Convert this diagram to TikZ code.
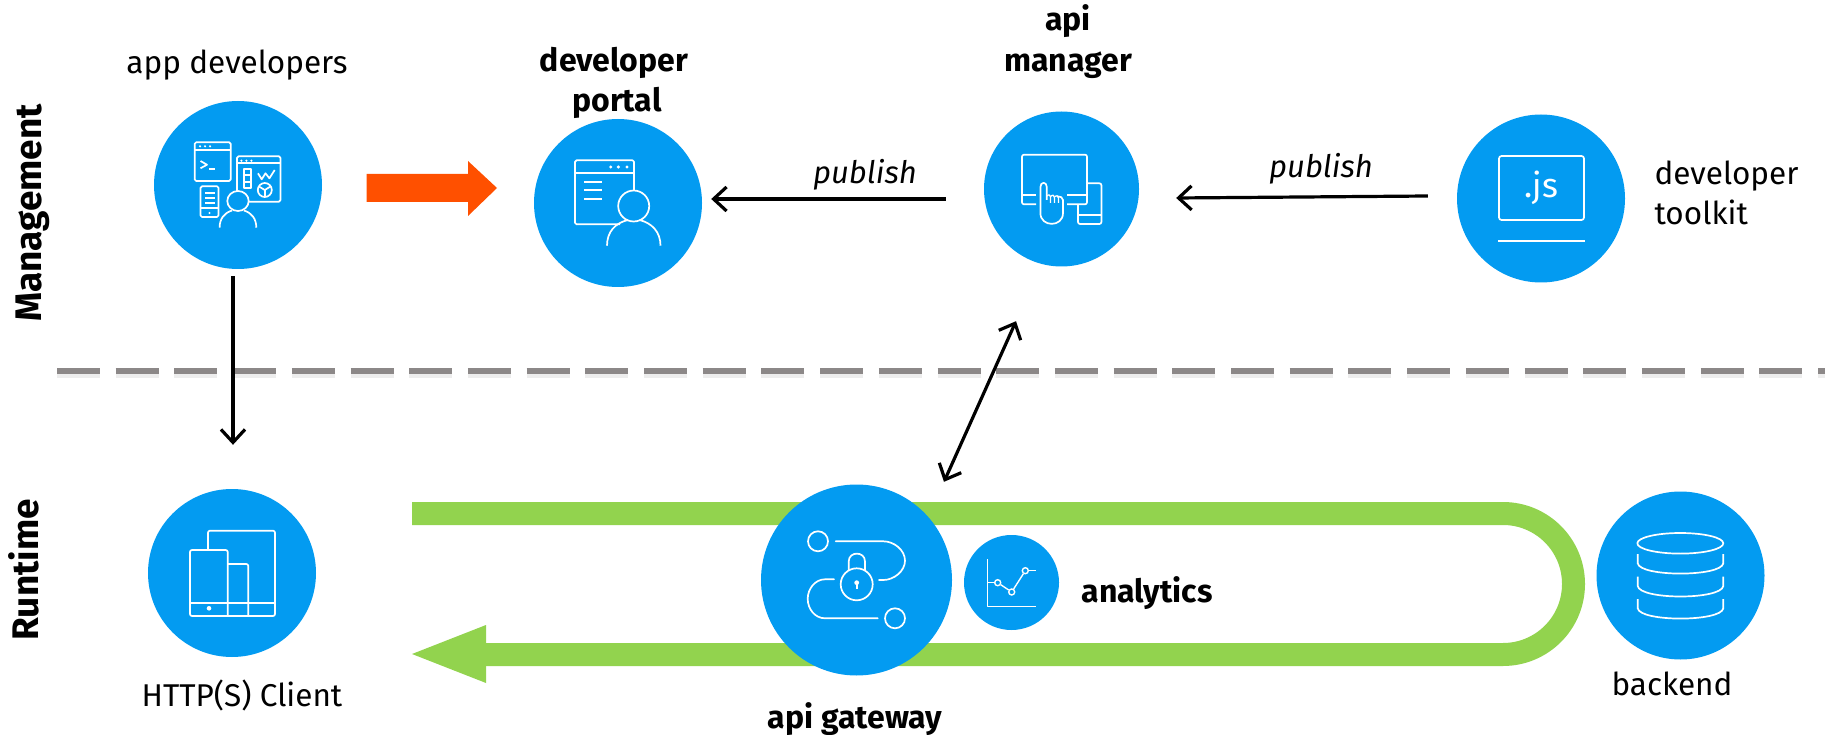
\documentclass[tikz,border=0pt]{standalone}
\usepackage{fontspec}
\setmainfont{Fira Sans}
\usetikzlibrary{arrows.meta}
\definecolor{ibmblue}{RGB}{3,155,241}
\definecolor{bandgreen}{RGB}{146,211,78}
\definecolor{blockorange}{RGB}{255,80,0}
\definecolor{sepgray}{RGB}{140,136,136}
\tikzset{
  bubble/.style={circle, fill=ibmblue, inner sep=0pt, minimum size=168pt},
  iconline/.style={draw=white, line width=1.7pt, line join=round},
  iconhead/.style={iconline, fill=ibmblue},
  plainlabel/.style={anchor=base, font=\fontsize{31.5}{31.5}\selectfont},
  boldlabel/.style={anchor=base, font=\fontsize{32}{32}\selectfont\bfseries},
  sidelabel/.style={anchor=base, rotate=90, font=\fontsize{37}{37}\selectfont\bfseries},
  italiclabel/.style={anchor=base, font=\fontsize{31}{31}\selectfont\itshape},
  flowarrow/.style={line width=3.2pt, -{Straight Barb[length=13pt, width=24pt, line width=3.2pt]}},
  flowboth/.style={line width=3.2pt, {Straight Barb[length=13pt, width=24pt, line width=3.2pt]}-{Straight Barb[length=13pt, width=24pt, line width=3.2pt]}},
  greenband/.style={draw=bandgreen, line width=23pt}
}
\begin{document}
\begin{tikzpicture}[x=1pt, y=-1pt]
\useasboundingbox (0,0) rectangle (1825,735);
\coordinate (sepleft) at (57,371);
\coordinate (sepright) at (1825,371);
\draw[line width=6pt, gray!14, dash pattern=on 43pt off 15.7pt] ([yshift=-4pt]sepleft) -- ([yshift=-4pt]sepright);
\draw[line width=6pt, sepgray, dash pattern=on 43pt off 15.7pt] (sepleft) -- (sepright);
\draw[greenband, rounded corners=70.5pt] (412,513.5) -- (1573.5,513.5) -- (1573.5,654.5) -- (480,654.5);
\fill[bandgreen] (486,625) -- (412,654) -- (486,683) -- cycle;
\fill[blockorange] (366.5,174) -- (468,174) -- (468,161) -- (497,188) -- (468,216) -- (468,202) -- (366.5,202) -- cycle;
\node[bubble] (appdev) at (238,185){};
\node[bubble] (portal) at (618,203){};
\node[bubble, minimum size=155pt] (manager) at (1061.5,189){};
\node[bubble] (toolkit) at (1541,198.5){};
\node[bubble] (client) at (232,573){};
\node[bubble, minimum size=191pt] (gateway) at (856.5,580){};
\node[bubble, minimum size=95pt] (analytics) at (1011.5,582.5){};
\node[bubble] (backend) at (1680.5,575.5){};
\node[plainlabel] (appdevtext) at (237,74){app developers};
\node[boldlabel] (portaltexta) at (614,72){developer};
\node[boldlabel] (portaltextb) at (617,112){portal};
\node[boldlabel] (managertexta) at (1068,31){api};
\node[boldlabel] (managertextb) at (1068,72){manager};
\node[plainlabel, anchor=base west] (toolkittexta) at (1651,185){developer};
\node[plainlabel, anchor=base west] (toolkittextb) at (1651,225){toolkit};
\node[plainlabel] (clienttext) at (242,706){HTTP(S) Client};
\node[boldlabel] (gatewaytext) at (855,728){api gateway};
\node[boldlabel, anchor=base west] (analyticstext) at (1078,602){analytics};
\node[plainlabel] (backendtext) at (1672,695){backend};
\node[italiclabel] (publishleft) at (865,184){publish};
\node[italiclabel] (publishright) at (1321,178){publish};
\node[sidelabel] (managementtext) at (41,213){Management};
\node[sidelabel] (runtimetext) at (38,570){Runtime};
\draw[flowarrow] ([shift={(-5,7)}]appdev.south) -- ([shift={(1,-44)}]client.north);
\draw[flowarrow] ([shift={(-38,10)}]manager.west) -- ([shift={(9,-4)}]portal.east);
\draw[flowarrow] ([shift={(-29,-2.5)}]toolkit.west) -- ([shift={(37,9)}]manager.east);
\draw[flowboth] ([shift={(-45.5,54.5)}]manager.south) -- ([shift={(87.5,-2.5)}]gateway.north);
\draw[iconline, rounded corners=1.5pt] (194.7,142.3) rectangle (230.7,181);
\draw[iconline] (194.7,150) -- (230.7,150);
\foreach \dotx in {200,205,210}
  \fill[white] (\dotx,146.3) circle (1.2);
\draw[iconline] (200.5,161) -- (207,164.7) -- (200.5,168.3);
\draw[iconline] (209,168.7) -- (215.4,168.7);
\draw[iconline, rounded corners=1.5pt] (237,156.3) rectangle (280.4,201.7);
\draw[iconline] (237,163.3) -- (280.4,163.3);
\foreach \dotx in {241.4,246.4,251.4}
  \fill[white] (\dotx,160.7) circle (1.2);
\draw[iconline] (243.7,169) rectangle (251,188.3);
\draw[iconline] (243.7,175.3) -- (251,175.3);
\draw[iconline] (243.7,182) -- (251,182);
\draw[iconline] (258,173.3) -- (261.7,179.3) -- (265.5,173.3) -- (269.4,178.3) -- (274.7,170);
\draw[iconline] (264.8,190) circle (7);
\draw[iconline] (264.8,190) -- (264.8,196);
\draw[iconline] (259,186.5) -- (264.8,190) -- (270.5,186.5);
\draw[iconline, rounded corners=1.5pt] (200.5,186.3) rectangle (218.5,217);
\foreach \liney in {193.3,198,202.7}
  \draw[iconline] (205,\liney) -- (214.6,\liney);
\draw[iconline] (200.5,208.3) -- (218.5,208.3);
\fill[white] (209.5,213) circle (1.2);
\draw[iconhead] (238,201) ellipse [x radius=10.7, y radius=10];
\draw[iconline] (219.6,227.7) .. controls (219.6,219) and (224,213) .. (232,210.5);
\draw[iconline] (256.3,227.7) .. controls (256.3,219) and (252,213) .. (244,210.5);
\draw[iconline, rounded corners=1.5pt] (634,191) |- (575,160.3) |- (620,224.3);
\draw[iconline] (575,172.7) -- (634,172.7);
\foreach \dotx in {610.7,618.4,627}
  \fill[white] (\dotx,167) circle (1.7);
\foreach \liney in {181.7,190.3,199.3}
  \draw[iconline] (584,\liney) -- (602,\liney);
\draw[iconhead] (633.7,206) ellipse [x radius=15.5, y radius=15.5];
\draw[iconline] (607,245.7) .. controls (607,232) and (615,223) .. (628,220);
\draw[iconline] (660.5,245.7) .. controls (660.5,232) and (652,223) .. (639.4,220);
\draw[iconline, rounded corners=2pt] (1036,204.3) -| (1022,154.7) -| (1087,204.3) -- (1067,204.3);
\draw[iconline] (1022,195) -- (1036,195);
\draw[iconline] (1067,195) -- (1087,195);
\draw[iconline, rounded corners=2pt] (1087,183.3) -| (1101.4,224) -| (1078,204.3);
\draw[iconline] (1078,215) -- (1101.4,215);
\draw[iconline] (1046.8,200) -- (1046.8,187) .. controls (1046.8,181.5) and (1040.4,181.5) .. (1040.4,187) -- (1040.4,213) .. controls (1040.4,227.5) and (1063,227.5) .. (1063,213) -- (1063,200) .. controls (1063,197) and (1060,196.5) .. (1058,196.5);
\draw[iconline, line width=1.3pt] (1046.8,196) .. controls (1049,194) and (1050.5,195) .. (1050.5,197) -- (1050.5,203);
\draw[iconline, line width=1.3pt] (1050.5,196.5) .. controls (1052.5,194.5) and (1054.5,195) .. (1054.5,197.5) -- (1054.5,203);
\draw[iconline, line width=1.3pt] (1054.5,196.5) .. controls (1056.5,195) and (1058.5,195.5) .. (1058.5,198) -- (1058.5,203);
\draw[iconline, rounded corners=2.5pt] (1499,156) rectangle (1584,220);
\draw[iconline] (1498,240.7) -- (1585,240.7);
\node[white, font=\fontsize{34}{34}\selectfont, anchor=base] (jstext) at (1541.5,198){.js};
\draw[iconline, rounded corners=2pt] (208,550) |- (275,530.7) |- (190,616) |- (227.7,550) -- (227.7,616);
\draw[iconline, rounded corners=2pt] (227.7,564) -| (248.3,616);
\draw[iconline] (190,602.7) -- (275,602.7);
\fill[white] (209,608.3) circle (2.3);
\draw[iconline] (818,541.3) circle (10);
\draw[iconline] (895,618.3) circle (10);
\draw[iconline, line cap=round] (835.7,541.3) -- (883.3,541.3) .. controls (894,541.3) and (905,550) .. (905,560.7) .. controls (905,571) and (894,580) .. (883.3,580) -- (879,580);
\draw[iconline, line cap=round] (834,579.3) -- (825,579.3) .. controls (815,579.3) and (807.7,589) .. (807.7,598.8) .. controls (807.7,609) and (815,618.3) .. (825,618.3) -- (877.7,618.3);
\draw[iconline] (848.7,570) -- (848.7,561.5) .. controls (848.7,551) and (865,551) .. (865,561.5) -- (865,570);
\draw[iconline] (856.7,584.3) circle (16);
\fill[white] (856.7,582.7) circle (2.4);
\draw[iconline] (856.7,583) -- (856.7,588.7);
\draw[iconline, line width=1.4pt] (987.7,559) -- (987.7,606.7) -- (1036,606.7);
\node[circle, draw=white, line width=1.4pt, inner sep=0pt, minimum size=6pt] (chartb) at (997.7,582.7){};
\node[circle, draw=white, line width=1.4pt, inner sep=0pt, minimum size=6pt] (chartc) at (1011.7,592){};
\node[circle, draw=white, line width=1.4pt, inner sep=0pt, minimum size=6pt] (chartd) at (1025.3,570.7){};
\coordinate (charta) at (987.7,582.7);
\coordinate (charte) at (1036,570.7);
\draw[iconline, line width=1.4pt] (charta) -- (chartb);
\draw[iconline, line width=1.4pt] (chartb) -- (chartc);
\draw[iconline, line width=1.4pt] (chartc) -- (chartd);
\draw[iconline, line width=1.4pt] (chartd) -- (charte);
\draw[iconline] (1680.3,543.3) ellipse [x radius=43, y radius=10.3];
\draw[iconline] (1637.7,554) -- (1637.7,563.3) .. controls (1640,577) and (1721,577) .. (1723.3,563.3) -- (1723.3,554);
\draw[iconline] (1637.7,576.7) -- (1637.7,586) .. controls (1640,600) and (1721,600) .. (1723.3,586) -- (1723.3,576.7);
\draw[iconline] (1637.7,599) -- (1637.7,608.3) .. controls (1640,622) and (1721,622) .. (1723.3,608.3) -- (1723.3,599);
\end{tikzpicture}
\end{document}
